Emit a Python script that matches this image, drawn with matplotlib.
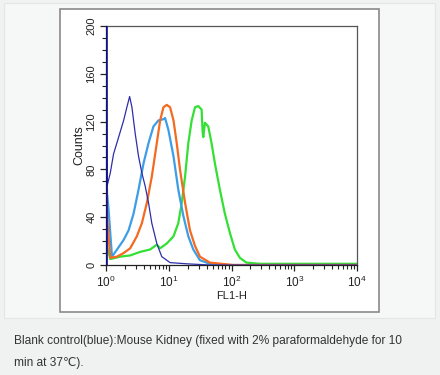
import matplotlib
matplotlib.use("Agg")
import matplotlib.pyplot as plt
from matplotlib.patches import Rectangle
from matplotlib.ticker import FixedLocator, LogLocator, NullFormatter

plt.rcParams['font.family'] = ['Liberation Sans', 'DejaVu Sans']
plt.rcParams['mathtext.fontset'] = 'custom'
plt.rcParams['mathtext.rm'] = 'Liberation Sans'
plt.rcParams['mathtext.it'] = 'Liberation Sans'

# FL1-H values / counts
blank_x = [1.0, 1.0, 1.04, 1.17, 1.32, 1.59, 1.91, 2.15, 2.38, 2.59, 2.92, 3.30, 3.73,
           4.21, 4.76, 5.37, 6.45, 7.74, 10.5, 19.3, 45.3, 10000]
blank_y = [0, 210, 66, 77, 93, 107, 121, 132, 141, 132, 110, 91, 77,
           66, 52, 35, 18, 7, 2, 1, 0, 0]

lightblue_x = [1.0, 1.0, 1.04, 1.10, 1.245, 1.50, 1.91, 2.29, 2.75, 3.30, 3.96, 4.76,
               5.71, 6.85, 8.23, 8.74, 9.88, 11.9, 14.2, 17.1, 20.5, 24.6, 31.4, 45.3,
               83.3, 10000]
lightblue_y = [0, 92, 60, 46, 7, 13, 21, 29, 43, 63, 85, 102,
               116, 121, 122, 123, 113, 91, 63, 41, 24, 13, 4, 1,
               0, 0]

orange_x = [1.0, 1.0, 1.04, 1.17, 1.50, 1.91, 2.43, 3.10, 3.73, 4.48, 5.37, 6.45,
            7.29, 8.23, 9.30, 10.5, 11.9, 13.4, 15.1, 18.2, 21.8, 26.2, 31.4, 45.3,
            106, 173, 10000]
orange_y = [0, 85, 40, 6, 7, 10, 14, 24, 35, 52, 74, 102,
            121, 132, 134, 132, 121, 102, 80, 52, 29, 16, 7, 2,
            0, 0, 0]

green_x = [1.0, 1.0, 1.04, 1.17, 1.69, 2.43, 3.51, 5.06, 6.45, 7.29, 9.30, 11.9,
           14.2, 16.1, 18.2, 20.5, 23.2, 26.2, 29.6, 33.4, 34.6, 35.5, 37.7, 42.6,
           48.1, 54.4, 65.3, 78.4, 94.1, 113, 136, 173, 282, 10000]
green_y = [0, 32, 15, 5, 7, 8, 11, 13, 17, 14, 18, 24,
           35, 52, 74, 102, 121, 132, 133, 130, 112, 107, 119, 116,
           102, 85, 63, 43, 27, 13, 6, 2, 1, 1]

caption_1 = "Blank control(blue):Mouse Kidney (fixed with 2% paraformaldehyde for 10"
caption_2 = "min at 37\u2103)."

W, H = 440, 375
fig = plt.figure(figsize=(W / 100, H / 100), dpi=100)
fig.patch.set_facecolor('#f0f2f2')

# page panels (pixel boxes converted to figure fractions)
def px_rect(x0, y0, x1, y1, **kw):
    return Rectangle((x0 / W, 1 - y1 / H), (x1 - x0) / W, (y1 - y0) / H,
                     transform=fig.transFigure, zorder=-10, **kw)

fig.patches.append(px_rect(4, 3, 435, 318, facecolor='#f6f7f7', edgecolor='#e3e6e6', lw=0.8))
fig.patches.append(px_rect(60, 9, 379, 312, facecolor='white', edgecolor='#8a8a8a', lw=1.2))

ax = fig.add_axes([106 / W, 1 - 265 / H, (357 - 106) / W, (265 - 26) / H])
ax.set_facecolor('white')

ax.plot(green_x, green_y, color='#33e033', lw=1.6, zorder=2)
ax.plot(lightblue_x, lightblue_y, color='#3d9de6', lw=1.6, zorder=3)
ax.plot(orange_x, orange_y, color='#f46a20', lw=1.6, zorder=4)
ax.plot(blank_x, blank_y, color='#2e2eaa', lw=0.9, zorder=5)
ax.plot(blank_x[:2], blank_y[:2], color='#10108a', lw=2.6, zorder=6)

ax.set_xscale('log')
ax.set_xlim(1, 1e4)
ax.set_ylim(0, 200)

ax.xaxis.set_major_locator(LogLocator(base=10, numticks=10))
ax.xaxis.set_minor_locator(LogLocator(base=10, subs=range(2, 10), numticks=20))
ax.xaxis.set_minor_formatter(NullFormatter())
ax.yaxis.set_major_locator(FixedLocator([0, 40, 80, 120, 160, 200]))
ax.yaxis.set_minor_locator(FixedLocator(range(0, 201, 10)))

ax.tick_params(axis='both', which='major', direction='out', length=4, width=0.9,
               color='#222222', labelsize=8, labelcolor='#222222')
ax.tick_params(axis='both', which='minor', direction='out', length=3, width=0.8,
               color='#222222')
ax.tick_params(axis='x', which='major', pad=3, labelsize=8.5)
ax.tick_params(axis='y', which='major', pad=3)
for lab in ax.get_yticklabels():
    lab.set_rotation(90)
    lab.set_va('center')

for s in ax.spines.values():
    s.set_color('#555555')
    s.set_linewidth(0.9)
ax.spines['left'].set_color('#222222')
ax.spines['bottom'].set_color('#222222')

ax.set_xlabel('FL1-H', fontsize=8, color='#222222', labelpad=1)
ax.set_ylabel('Counts', fontsize=9, color='#222222', labelpad=1)

fig.text(14 / W, 1 - 341 / H, caption_1, fontsize=8.55, color='#333333', va='center', ha='left')
fig.text(14 / W, 1 - 363 / H, caption_2, fontsize=8.55, color='#333333', va='center', ha='left')

fig.savefig('out.png', dpi=100, facecolor=fig.get_facecolor())
